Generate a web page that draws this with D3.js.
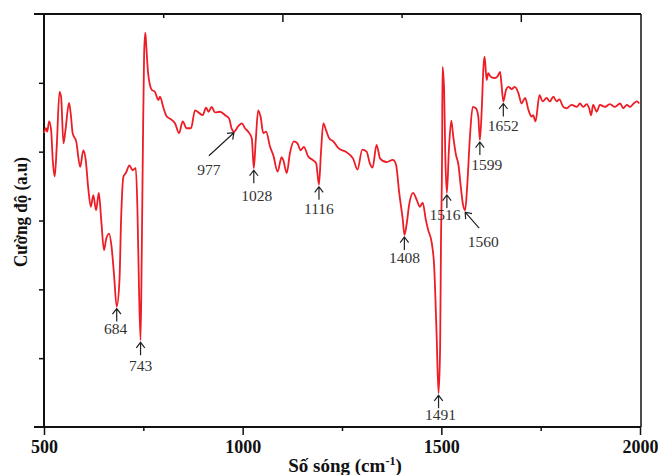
<!DOCTYPE html>
<html>
<head>
<meta charset="utf-8">
<script src="https://cdn.jsdelivr.net/npm/d3@7"></script>
<style>
  body { margin: 0; background: #fff; }
  svg { display: block; }
</style>
</head>
<body>
<script>
// spectrum
var wavenumber = [500,505,508,513,518,522,527,532,539,543,549,554,563,568,572,581,591,599,605,611,
  618,624,631,638,644,651,656,664,670,676,683,690,694,700,706,715,723,731,735,739,
  743,746,749,752,755,758,762,771,779,788,792,800,809,817,830,840,849,859,870,880,
  891,899,908,914,922,930,943,956,966,972,978,989,998,1006,1014,1023,1028,1033,1039,1045,
  1052,1059,1069,1077,1088,1098,1102,1111,1119,1129,1138,1146,1154,1165,1176,1185,1192,1197,1203,1210,
  1218,1228,1241,1262,1278,1289,1301,1312,1320,1327,1337,1346,1362,1378,1386,1394,1403,1407,1413,1419,
  1429,1438,1446,1453,1461,1467,1476,1482,1488,1493,1497,1499,1502,1503,1507,1510,1514,1519,1525,1530,
  1537,1543,1549,1554,1560,1565,1572,1579,1587,1593,1597,1602,1606,1609,1614,1618,1624,1635,1641,1648,
  1652,1656,1663,1669,1677,1685,1694,1702,1711,1719,1727,1731,1737,1747,1755,1765,1773,1782,1790,1797,
  1807,1815,1828,1841,1849,1857,1866,1872,1877,1882,1891,1899,1912,1924,1937,1950,1958,1967,1975,1984,1992,1998];
var intensity = [4.27,4.34,4.29,4.44,4.31,3.88,3.64,4.07,4.87,4.80,4.12,4.31,4.71,4.51,4.27,4.15,3.78,4.02,3.88,3.49,
  3.20,3.37,3.15,3.40,3.01,2.57,2.72,2.81,2.62,2.23,1.75,2.14,3.01,3.64,3.69,3.80,3.73,3.76,3.20,2.04,
  1.26,2.52,4.12,5.43,5.73,5.48,5.14,4.90,4.87,4.75,4.80,4.65,4.51,4.48,4.41,4.27,4.44,4.34,4.34,4.60,
  4.56,4.53,4.64,4.58,4.65,4.57,4.58,4.53,4.48,4.34,4.29,4.37,4.41,4.34,4.29,4.19,3.76,4.17,4.60,4.51,
  4.27,4.29,4.07,3.95,3.71,3.92,3.88,3.69,3.98,4.15,4.12,4.02,4.07,3.93,3.88,3.83,3.52,3.98,4.41,4.31,
  4.19,4.15,4.05,3.99,3.90,3.74,4.03,4.00,3.83,3.77,4.10,3.90,3.85,3.88,3.81,3.40,3.01,2.79,2.96,3.23,
  3.40,3.30,3.20,3.26,3.01,2.86,2.67,2.33,1.36,0.49,1.17,2.62,4.07,5.23,4.90,3.93,3.40,4.02,4.45,4.22,
  3.95,3.81,3.49,3.25,3.15,3.49,4.22,4.65,4.63,4.51,4.17,4.65,5.23,5.38,5.04,5.14,5.09,5.07,5.09,5.16,
  4.94,4.73,4.90,4.94,4.91,4.94,4.85,4.70,4.78,4.61,4.51,4.53,4.44,4.82,4.73,4.78,4.73,4.80,4.73,4.76,
  4.65,4.63,4.68,4.65,4.70,4.65,4.69,4.63,4.53,4.68,4.58,4.68,4.65,4.69,4.65,4.70,4.63,4.68,4.65,4.70,4.73,4.70];

// peak labels and where their arrows point
var peakLabels = ["684","743","977","1028","1116","1408","1491","1516","1560","1599","1652"];
var peakAt     = [683, 743, 978, 1028, 1192, 1407, 1493, 1514, 1560, 1597, 1656];

var xMajor = [500, 1000, 1500, 2000];
var xMinor = [750, 1250, 1750];
var xTopTicks = [800, 1100, 1400, 1700];
var yTicks = [1, 2, 3, 4, 5];

// label layout: arrow kind, label offset below tip, label x shift
var arrowKind = ["up","up","sw","up","up","up","up","up","se","up","up"];
var labelDy   = [25, 29, 42, 31, 27, 26, 25, 25, 35, 28, 28];
var labelDx   = [-1, 0, -25, 3, 0, 0, 2, -2, 18, 7, 0];

var W = 658, H = 475;
var mL = 44, mR = 640, mT = 14, mB = 427;

var svg = d3.select("body").append("svg").attr("width", W).attr("height", H);

var x = d3.scaleLinear().domain([500, 2000]).range([mL, mR]);
var y = d3.scaleLinear().domain([0, 6]).range([mB, mT]);

var pts = d3.zip(wavenumber, intensity);

function valueAt(w) {
  var i = d3.bisector(function(d){ return d[0]; }).left(pts, w);
  if (i <= 0) return pts[0][1];
  if (i >= pts.length) return pts[pts.length-1][1];
  var a = pts[i-1], b = pts[i];
  return a[1] + (b[1]-a[1]) * (w - a[0]) / (b[0] - a[0]);
}

// frame lines
var frame = svg.append("g").attr("stroke", "#111").attr("fill", "none");
frame.append("line").attr("x1", mL-10).attr("x2", mR+1).attr("y1", mB).attr("y2", mB).attr("stroke-width", 2);
frame.append("line").attr("x1", mL-10).attr("x2", mR+1).attr("y1", mT).attr("y2", mT).attr("stroke-width", 2);
frame.append("line").attr("x1", mL).attr("x2", mL).attr("y1", mT).attr("y2", mB).attr("stroke-width", 2);
frame.append("line").attr("x1", mR+1).attr("x2", mR+1).attr("y1", mT).attr("y2", mB).attr("stroke-width", 1.5);

// bottom axis
var axMaj = svg.append("g").attr("transform", "translate(0," + mB + ")")
  .call(d3.axisBottom(x).tickValues(xMajor).tickSize(8).tickFormat(d3.format("d")));
axMaj.select(".domain").remove();
axMaj.selectAll("line").attr("stroke", "#111").attr("stroke-width", 1.5);
axMaj.selectAll("text").attr("dy", null).attr("y", 26)
  .style("font-family", "'Liberation Serif', 'Times New Roman', serif")
  .style("font-size", "18px").style("font-weight", "bold").attr("fill", "#111");

var axMin = svg.append("g").attr("transform", "translate(0," + mB + ")")
  .call(d3.axisBottom(x).tickValues(xMinor).tickSize(4).tickFormat(""));
axMin.select(".domain").remove();
axMin.selectAll("line").attr("stroke", "#111").attr("stroke-width", 1.5);

// top axis, inward ticks
var axTop = svg.append("g").attr("transform", "translate(0," + mT + ")")
  .call(d3.axisBottom(x).tickValues(xTopTicks).tickSize(0).tickFormat(""));
axTop.select(".domain").remove();
axTop.selectAll(".tick line").attr("y2", function(d, i){ return i % 2 ? 8 : 4; })
  .attr("stroke", "#111").attr("stroke-width", 1.5);

// left axis
var axL = svg.append("g").attr("transform", "translate(" + mL + ",0)")
  .call(d3.axisLeft(y).tickValues(yTicks).tickSize(5).tickFormat(""));
axL.select(".domain").remove();
axL.selectAll("line").attr("stroke", "#111").attr("stroke-width", 1.5);

// spectrum
var line = d3.line().curve(d3.curveMonotoneX)
  .x(function(d){ return x(d[0]); }).y(function(d){ return y(d[1]); });
svg.append("path").datum(pts)
  .attr("d", line)
  .attr("fill", "none")
  .attr("stroke", "#ee1c25")
  .attr("stroke-width", 1.8)
  .attr("stroke-linejoin", "round");

// peak arrows
var ann = svg.append("g").attr("stroke", "#222").attr("fill", "none").attr("stroke-width", 1.2);
var txt = svg.append("g")
  .style("font-family", "'Liberation Serif', 'Times New Roman', serif")
  .style("font-size", "15.5px").attr("fill", "#333").attr("text-anchor", "middle");

peakLabels.forEach(function(lab, i) {
  var px = x(peakAt[i]);
  var py = y(valueAt(peakAt[i])) + 2;
  var dx = 0, dy = 13;
  if (arrowKind[i] === "sw") { dx = -25; dy = 23; py -= 1; }
  if (arrowKind[i] === "se") { dx = 14; dy = 16; }
  var len = Math.sqrt(dx*dx + dy*dy), ux = dx/len, uy = dy/len;
  var hl = 7, ang = 0.65;
  var c = Math.cos(ang), s = Math.sin(ang);
  var h1 = [px + hl*(ux*c - uy*s), py + hl*(ux*s + uy*c)];
  var h2 = [px + hl*(ux*c + uy*s), py + hl*(-ux*s + uy*c)];
  ann.append("path").attr("d",
    "M" + (px+dx) + "," + (py+dy) + "L" + px + "," + py +
    "M" + h1[0] + "," + h1[1] + "L" + px + "," + py + "L" + h2[0] + "," + h2[1]);
  txt.append("text").attr("x", px + labelDx[i]).attr("y", py + labelDy[i]).text(lab);
});

// axis titles
svg.append("text")
  .attr("x", 345).attr("y", 472)
  .attr("text-anchor", "middle")
  .style("font-family", "'Liberation Serif', 'Times New Roman', serif")
  .style("font-size", "19px").style("font-weight", "bold").attr("fill", "#111")
  .html("Số sóng (cm<tspan dy='-7' font-size='12px'>-1</tspan><tspan dy='7'>)</tspan>");

svg.append("text")
  .attr("transform", "translate(27,212) rotate(-90)")
  .attr("text-anchor", "middle")
  .attr("textLength", 110).attr("lengthAdjust", "spacingAndGlyphs")
  .style("font-family", "'Liberation Serif', 'Times New Roman', serif")
  .style("font-size", "19px").style("font-weight", "bold").attr("fill", "#111")
  .text("Cường độ (a.u)");
</script>
</body>
</html>
